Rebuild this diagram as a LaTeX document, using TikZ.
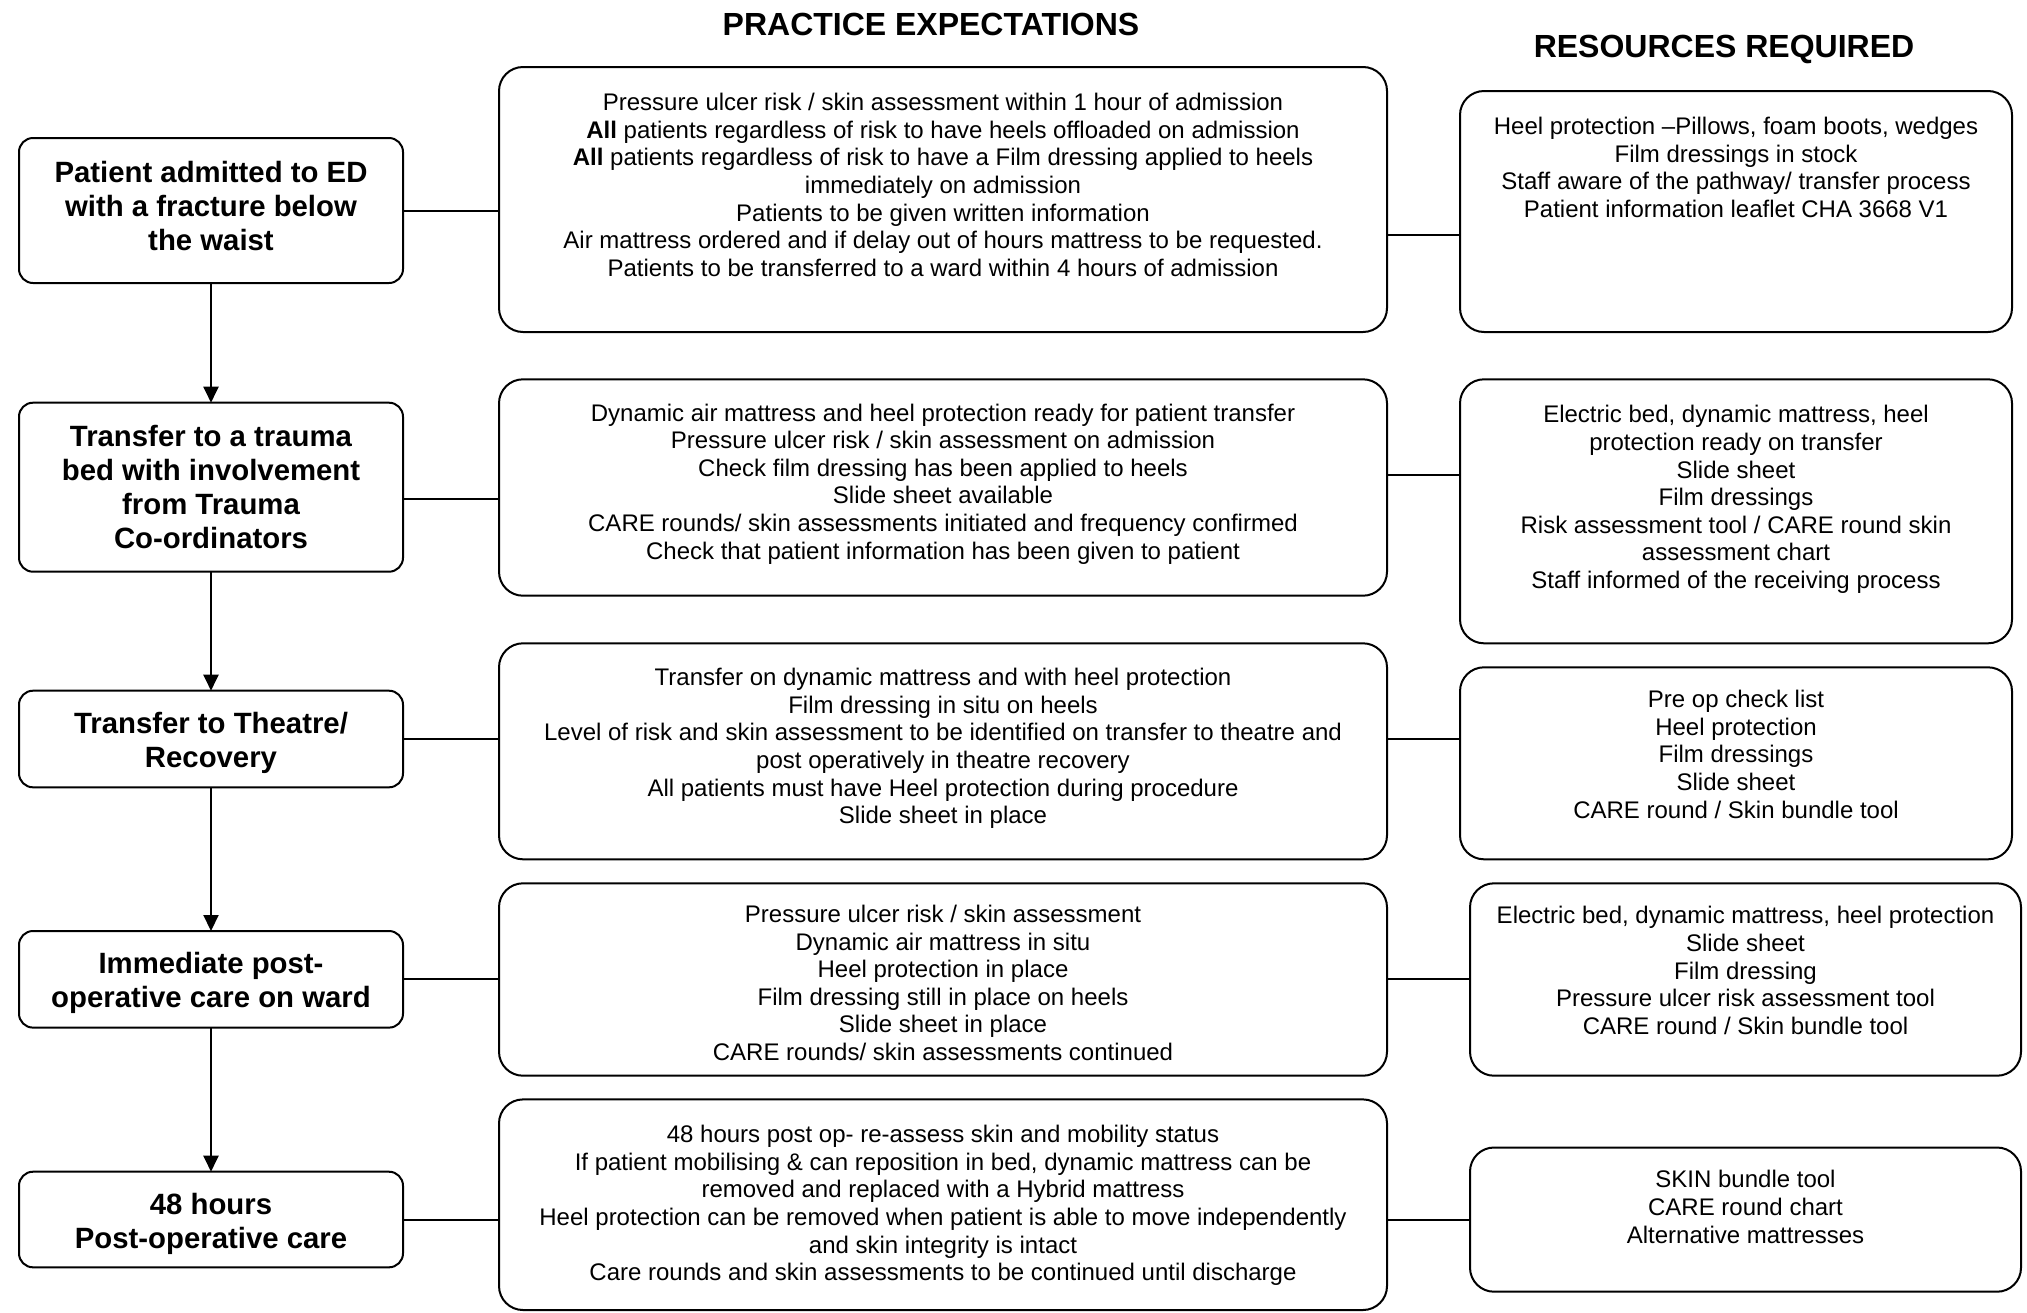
\documentclass[tikz,border=0pt]{standalone}
\usepackage{fontspec}
\setmainfont{Liberation Sans}
\usetikzlibrary{arrows.meta}
\begin{document}
\begin{tikzpicture}[x=0.5pt,y=-0.5pt,
  every node/.style={inner sep=0pt, outer sep=0pt},
  lbox/.style={draw, line width=1pt, rounded corners=7pt, minimum width=192pt},
  ltext/.style={align=center, font=\fontsize{14.67pt}{17pt}\selectfont\bfseries},
  mbox/.style={draw, line width=1pt, rounded corners=12pt, minimum width=444pt},
  rbox/.style={draw, line width=1pt, rounded corners=12pt, minimum width=276pt},
  btext/.style={anchor=north, align=center, font=\fontsize{12pt}{13.8pt}\selectfont},
  ttl/.style={font=\fontsize{16pt}{19pt}\selectfont\bfseries},
  conn/.style={line width=1pt},
  flow/.style={line width=1pt, -{Triangle[length=8pt,width=7.5pt]}}
]
\useasboundingbox (0,0) rectangle (2027,1312);

% titles
\node[ttl] (t1) at (931,24) {PRACTICE EXPECTATIONS};
\node[ttl] (t2) at (1724,49) {RESOURCES REQUIRED};

% left column boxes
\node[lbox, minimum height=72.5pt] (l1) at (211,210.5) {};
\node[lbox, minimum height=84.5pt] (l2) at (211,487.2) {};
\node[lbox, minimum height=48.3pt] (l3) at (211,739) {};
\node[lbox, minimum height=48.3pt] (l4) at (211,979.3) {};
\node[lbox, minimum height=47.8pt] (l5) at (211,1219.5) {};

% left column texts
\node[ltext] (l1t) at ([yshift=2pt]l1.center) {Patient admitted to ED\\with a fracture below\\the waist};
\node[ltext] (l2t) at (l2.center) {Transfer to a trauma\\bed with involvement\\from Trauma\\Co-ordinators};
\node[ltext] (l3t) at ([yshift=-2pt]l3.center) {Transfer to Theatre/\\Recovery};
\node[ltext] (l4t) at ([yshift=-2pt]l4.center) {Immediate post-\\operative care on ward};
\node[ltext] (l5t) at ([yshift=-2pt]l5.center) {48 hours\\Post-operative care};

% middle column boxes
\node[mbox, minimum height=132.5pt] (m1) at (943,199.5) {};
\node[mbox, minimum height=108.2pt] (m2) at (943,487.5) {};
\node[mbox, minimum height=108pt] (m3) at (943,751.3) {};
\node[mbox, minimum height=96.2pt] (m4) at (943,979.5) {};
\node[mbox, minimum height=105.3pt] (m5) at (943,1204.7) {};

% right column boxes
\node[rbox, minimum height=120.5pt] (r1) at (1736,211.5) {};
\node[rbox, minimum height=132pt] (r2) at (1736,511.3) {};
\node[rbox, minimum height=96pt] (r3) at (1736,763.3) {};
\node[rbox, minimum height=96.2pt, minimum width=275.5pt] (r4) at (1745.5,979.5) {};
\node[rbox, minimum height=72.1pt, minimum width=275.5pt] (r5) at (1745.5,1219.6) {};

% middle texts
\node[btext] (m1t) at ([yshift=-13.2pt]m1.north) {Pressure ulcer risk / skin assessment within 1 hour of admission\\
\textbf{All} patients regardless of risk to have heels offloaded on admission\\
\textbf{All} patients regardless of risk to have a Film dressing applied to heels\\
immediately on admission\\
Patients to be given written information\\
Air mattress ordered and if delay out of hours mattress to be requested.\\
Patients to be transferred to a ward within 4 hours of admission};
\node[btext] (m2t) at ([yshift=-12.2pt]m2.north) {Dynamic air mattress and heel protection ready for patient transfer\\
Pressure ulcer risk / skin assessment on admission\\
Check film dressing has been applied to heels\\
Slide sheet available\\
CARE rounds/ skin assessments initiated and frequency confirmed\\
Check that patient information has been given to patient};
\node[btext] (m3t) at ([yshift=-12.5pt]m3.north) {Transfer on dynamic mattress and with heel protection\\
Film dressing in situ on heels\\
Level of risk and skin assessment to be identified on transfer to theatre and\\
post operatively in theatre recovery\\
All patients must have Heel protection during procedure\\
Slide sheet in place};
\node[btext] (m4t) at ([yshift=-10.9pt]m4.north) {Pressure ulcer risk / skin assessment\\
Dynamic air mattress in situ\\
Heel protection in place\\
Film dressing still in place on heels\\
Slide sheet in place\\
CARE rounds/ skin assessments continued};
\node[btext] (m5t) at ([yshift=-12.9pt]m5.north) {48 hours post op- re-assess skin and mobility status\\
If patient mobilising \& can reposition in bed, dynamic mattress can be\\
removed and replaced with a Hybrid mattress\\
Heel protection can be removed when patient is able to move independently\\
and skin integrity is intact\\
Care rounds and skin assessments to be continued until discharge};

% right texts
\node[btext] (r1t) at ([yshift=-13.1pt]r1.north) {Heel protection –Pillows, foam boots, wedges\\
Film dressings in stock\\
Staff aware of the pathway/ transfer process\\
Patient information leaflet CHA 3668 V1};
\node[btext] (r2t) at ([yshift=-13.1pt]r2.north) {Electric bed, dynamic mattress, heel\\
protection ready on transfer\\
Slide sheet\\
Film dressings\\
Risk assessment tool / CARE round skin\\
assessment chart\\
Staff informed of the receiving process};
\node[btext] (r3t) at ([yshift=-11.5pt]r3.north) {Pre op check list\\
Heel protection\\
Film dressings\\
Slide sheet\\
CARE round / Skin bundle tool};
\node[btext] (r4t) at ([yshift=-11.6pt]r4.north) {Electric bed, dynamic mattress, heel protection\\
Slide sheet\\
Film dressing\\
Pressure ulcer risk assessment tool\\
CARE round / Skin bundle tool};
\node[btext] (r5t) at ([yshift=-11.5pt]r5.north) {SKIN bundle tool\\
CARE round chart\\
Alternative mattresses};

% vertical flow arrows
\draw[flow] (l1.south) -- (l2.north);
\draw[flow] (l2.south) -- (l3.north);
\draw[flow] (l3.south) -- (l4.north);
\draw[flow] (l4.south) -- (l5.north);

% horizontal connectors
\coordinate (c1) at (1420,235);
\coordinate (c2a) at (450,499.3);
\coordinate (c2b) at (1420,475.3);
\draw[conn] (l1.east) -- (l1.east -| m1.west);
\draw[conn] (m1.east |- c1) -- (r1.west |- c1);
\draw[conn] (l2.east |- c2a) -- (m2.west |- c2a);
\draw[conn] (m2.east |- c2b) -- (r2.west |- c2b);
\draw[conn] (l3.east) -- (l3.east -| m3.west);
\draw[conn] (m3.east |- l3.east) -- (r3.west |- l3.east);
\draw[conn] (l4.east) -- (l4.east -| m4.west);
\draw[conn] (m4.east |- l4.east) -- (r4.west |- l4.east);
\draw[conn] (l5.east) -- (l5.east -| m5.west);
\draw[conn] (m5.east |- l5.east) -- (r5.west |- l5.east);
\end{tikzpicture}
\end{document}
